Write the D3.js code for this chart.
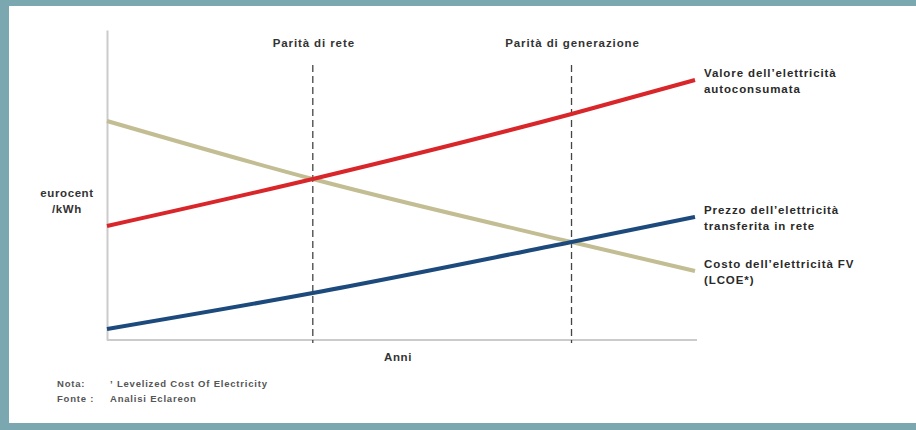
<!DOCTYPE html>
<html lang="it">
<head>
<meta charset="utf-8">
<script src="https://cdn.jsdelivr.net/npm/d3@7"></script>
<style>
  html, body { margin: 0; padding: 0; background: #ffffff; overflow: hidden; }
  svg { display: block; }
  text { font-family: "Liberation Sans", Arial, sans-serif; }
</style>
</head>
<body>
<svg id="chart" width="916" height="430"></svg>
<script>
// Anni (asse orizzontale, scala relativa)
const anni = [0, 7, 15.8, 20];

// Serie in eurocent/kWh
const valoreAutoconsumo = [11.4, 16.1, 22.6, 26.0];
const prezzoRete = [1.1, 4.7, 9.8, 12.3];
const costoLCOE = [21.9, 16.1, 9.8, 6.9];

const serieNomi = ["valore", "prezzo", "costo"];
const serieEtichette = [
  ["Valore dell\u2019elettricità", "autoconsumata"],
  ["Prezzo dell\u2019elettricità", "transferita in rete"],
  ["Costo dell\u2019elettricità FV", "(LCOE*)"]
];
const serieColori = ["#d8262a", "#1c4a7c", "#c3bd93"];

// Punti di parità
const paritaNomi = ["Parità di rete", "Parità di generazione"];
const paritaAnni = [7, 15.8];

const noteEtichette = ["Nota:", "Fonte :"];
const noteTesti = ["\u02BC Levelized Cost Of Electricity", "Analisi Eclareon"];

const svg = d3.select("#chart");

// sfondo bianco e cornice (sopra, sinistra, sotto)
svg.append("rect").attr("x", 0).attr("y", 0)
  .attr("width", 916).attr("height", 430).attr("fill", "#ffffff");
const cornice = "#7aa7b0";
svg.append("rect").attr("x", 0).attr("y", 0)
  .attr("width", 916).attr("height", 6).attr("fill", cornice);
svg.append("rect").attr("x", 0).attr("y", 0)
  .attr("width", 9).attr("height", 430).attr("fill", cornice);
svg.append("rect").attr("x", 0).attr("y", 423)
  .attr("width", 916).attr("height", 7).attr("fill", cornice);

const x = d3.scaleLinear().domain([0, 20]).range([107, 695]);
const y = d3.scaleLinear().domain([0, 31]).range([340, 30]);

// assi senza tacche
const gx = svg.append("g")
  .attr("transform", `translate(0,${y(0)})`)
  .call(d3.axisBottom(x).tickValues([]).tickSizeOuter(0));
const gy = svg.append("g")
  .attr("transform", `translate(${x(0)},0)`)
  .call(d3.axisLeft(y).tickValues([]).tickSizeOuter(0));
[gx, gy].forEach(g => g.select(".domain")
  .attr("stroke", "#cbcbcb").attr("stroke-width", 2));
gx.select(".domain").attr("d", `M${x(0)},0H${x(20) + 2}`);

// linee tratteggiate di parità
paritaAnni.forEach((a, i) => {
  svg.append("line")
    .attr("x1", x(a)).attr("x2", x(a))
    .attr("y1", y(27.5)).attr("y2", y(0) + 3)
    .attr("stroke", "#444").attr("stroke-width", 1.3)
    .attr("stroke-dasharray", "7,4");
  svg.append("text")
    .attr("x", x(a) + 1).attr("y", 47)
    .attr("text-anchor", "middle")
    .attr("font-size", 11.5).attr("font-weight", "bold")
    .attr("letter-spacing", 0.9)
    .attr("fill", "#333")
    .text(paritaNomi[i]);
});

// serie
const serieValori = [valoreAutoconsumo, prezzoRete, costoLCOE];
const line = d3.line()
  .x((d, i) => x(anni[i]))
  .y(d => y(d))
  .curve(d3.curveMonotoneX);

// ordine di disegno: beige sotto, poi blu, poi rosso
[2, 1, 0].forEach(k => {
  svg.append("path")
    .datum(serieValori[k])
    .attr("class", "serie-" + serieNomi[k])
    .attr("d", line)
    .attr("fill", "none")
    .attr("stroke", serieColori[k])
    .attr("stroke-width", 4);
});

// etichette delle serie a destra
serieValori.forEach((vals, k) => {
  const yEnd = y(vals[vals.length - 1]);
  const t = svg.append("text")
    .attr("x", x(20) + 9)
    .attr("y", yEnd - 3)
    .attr("font-size", 11.5).attr("font-weight", "bold")
    .attr("letter-spacing", 0.9)
    .attr("fill", "#2a2a2a");
  serieEtichette[k].forEach((s, j) => {
    t.append("tspan")
      .attr("x", x(20) + 9)
      .attr("dy", j === 0 ? 0 : 16)
      .text(s);
  });
});

// titoli degli assi
const yl = svg.append("text")
  .attr("x", 67).attr("y", 197)
  .attr("text-anchor", "middle")
  .attr("font-size", 11.5).attr("font-weight", "bold")
  .attr("letter-spacing", 0.6)
  .attr("fill", "#333");
yl.append("tspan").attr("x", 67).attr("dy", 0).text("eurocent");
yl.append("tspan").attr("x", 67).attr("dy", 16).text("/kWh");

svg.append("text")
  .attr("x", 398).attr("y", 361)
  .attr("text-anchor", "middle")
  .attr("font-size", 11.5).attr("font-weight", "bold")
  .attr("letter-spacing", 0.6)
  .attr("fill", "#333")
  .text("Anni");

// note
noteEtichette.forEach((s, i) => {
  svg.append("text")
    .attr("x", 57).attr("y", 387 + i * 15)
    .attr("font-size", 9.5).attr("font-weight", "bold")
    .attr("letter-spacing", 0.8)
    .attr("fill", "#555")
    .text(s);
  svg.append("text")
    .attr("x", 110).attr("y", 387 + i * 15)
    .attr("font-size", 9.5).attr("font-weight", "bold")
    .attr("letter-spacing", 0.8)
    .attr("fill", "#555")
    .text(noteTesti[i]);
});
</script>
</body>
</html>
